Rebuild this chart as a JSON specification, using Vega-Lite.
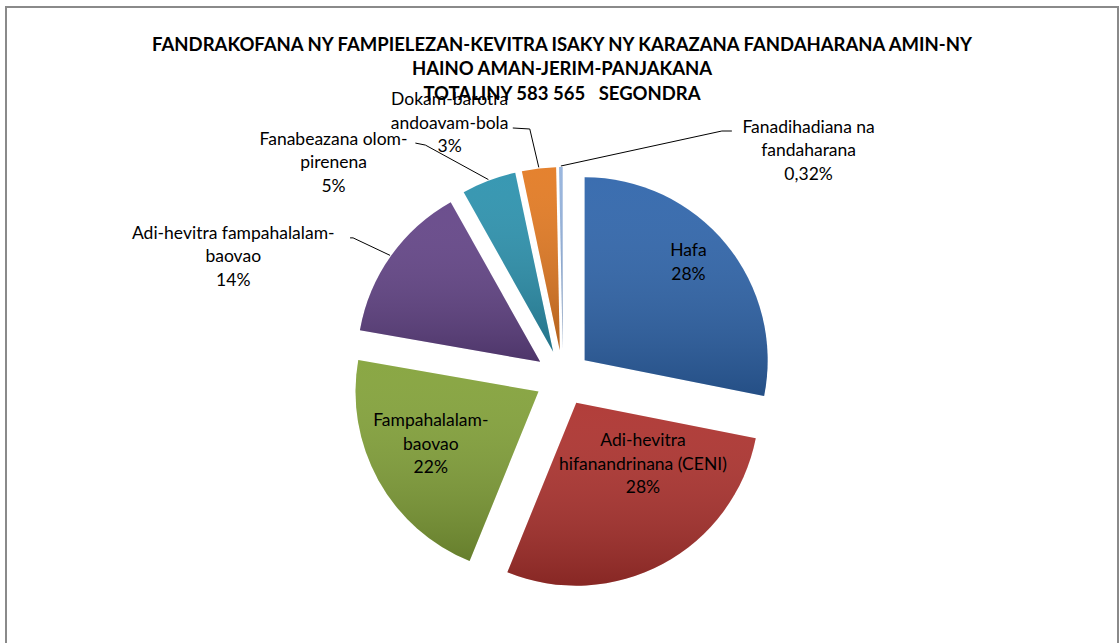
{
  "$schema": "https://vega.github.io/schema/vega-lite/v6.json",
  "width": 1112,
  "height": 636,
  "autosize": {"type": "none"},
  "padding": {"left": 6, "top": 7, "right": 1, "bottom": 0},
  "config": {"view": {"stroke": null}, "font": "Lato"},
  "params": [{"name": "cx", "value": 557}, {"name": "cy", "value": 371}],
  "title": {
    "text": ["FANDRAKOFANA NY FAMPIELEZAN-KEVITRA ISAKY NY KARAZANA FANDAHARANA AMIN-NY", "HAINO AMAN-JERIM-PANJAKANA", "TOTALINY 583 565\u00a0\u00a0 SEGONDRA"],
    "anchor": "middle",
    "frame": "group",
    "baseline": "top",
    "offset": -97,
    "font": "Lato",
    "fontSize": 18.5,
    "fontWeight": "bold",
    "lineHeight": 24.5,
    "color": "black"
  },
  "data": {
    "values": [
      {"k": "hafa", "name": "Hafa", "value": 28.1, "label": "Hafa\n28%"},
      {"k": "ceni", "name": "Adi-hevitra hifanandrinana (CENI)", "value": 28.0, "label": "Adi-hevitra\nhifanandrinana (CENI)\n28%"},
      {"k": "fampa", "name": "Fampahalalam-baovao", "value": 21.6, "label": "Fampahalalam-\nbaovao\n22%"},
      {"k": "adi", "name": "Adi-hevitra fampahalalam-baovao", "value": 14.1, "label": "Adi-hevitra fampahalalam-\nbaovao\n14%"},
      {"k": "fanab", "name": "Fanabeazana olom-pirenena", "value": 4.8, "label": "Fanabeazana olom-\npirenena\n5%"},
      {"k": "dokam", "name": "Dokam-barotra andoavam-bola", "value": 3.0, "label": "Dokam-barotra\nandoavam-bola\n3%"},
      {"k": "fanad", "name": "Fanadihadiana na fandaharana", "value": 0.32, "label": "Fanadihadiana na\nfandaharana\n0,32%"}
    ]
  },
  "transform": [
    {"stack": "value", "groupby": [], "as": ["v0", "v1"], "offset": "normalize", "sort": [{"field": "value", "order": "descending"}]}
  ],
  "layer": [
    {
      "mark": {"type": "rect", "filled": false, "stroke": "#8a8a8a", "strokeWidth": 2},
      "encoding": {
        "x": {"value": 0},
        "x2": {"value": "width"},
        "y": {"value": 0},
        "y2": {"value": {"expr": "height+8"}}
      }
    },
    {
      "mark": {
        "type": "arc",
        "outerRadius": 183,
        "x": {"expr": "cx+28*sin(PI*(datum.v0+datum.v1))"},
        "y": {"expr": "cy-28*cos(PI*(datum.v0+datum.v1))"}
      },
      "encoding": {
        "theta": {"field": "v0", "type": "quantitative", "stack": null, "scale": {"domain": [0, 1], "range": [0, 6.283185307]}},
        "theta2": {"field": "v1"},
        "color": {
          "field": "name",
          "type": "nominal",
          "legend": null,
          "scale": {
            "domain": ["Hafa", "Adi-hevitra hifanandrinana (CENI)", "Fampahalalam-baovao", "Adi-hevitra fampahalalam-baovao", "Fanabeazana olom-pirenena", "Dokam-barotra andoavam-bola", "Fanadihadiana na fandaharana"],
            "range": ["#2f65ab", "#ad322e", "#83a239", "#634487", "#2c92ae", "#e37a22", "#94b2dc"]
          }
        }
      }
    },
    {
      "mark": {
        "type": "arc",
        "outerRadius": 183,
        "x": {"expr": "cx+28*sin(PI*(datum.v0+datum.v1))"},
        "y": {"expr": "cy-28*cos(PI*(datum.v0+datum.v1))"},
        "color": {
          "gradient": "linear",
          "x1": 0, "y1": 0, "x2": 0, "y2": 1,
          "stops": [
            {"offset": 0, "color": "rgba(255,255,255,0.06)"},
            {"offset": 1, "color": "rgba(0,0,0,0.22)"}
          ]
        }
      },
      "encoding": {
        "theta": {"field": "v0", "type": "quantitative", "stack": null},
        "theta2": {"field": "v1"}
      }
    },
    {
      "transform": [{"filter": {"field": "k", "oneOf": ["adi", "fanab", "dokam", "fanad"]}}],
      "mark": {"type": "rule", "color": "black", "strokeWidth": 1},
      "encoding": {
        "x": {"value": {"expr": "cx+212*sin(PI*(datum.v0+datum.v1))"}},
        "y": {"value": {"expr": "cy-212*cos(PI*(datum.v0+datum.v1))"}},
        "x2": {"value": {"expr": "cx+212*sin(PI*(datum.v0+datum.v1))+(datum.k=='adi'?-37:datum.k=='fanab'?-63:datum.k=='dokam'?-9:161)"}},
        "y2": {"value": {"expr": "cy-212*cos(PI*(datum.v0+datum.v1))+(datum.k=='adi'?-17.5:datum.k=='fanab'?-34.5:datum.k=='dokam'?-38.4:-35)"}}
      }
    },
    {
      "transform": [{"filter": {"field": "k", "oneOf": ["adi", "fanab", "dokam", "fanad"]}}],
      "mark": {"type": "rule", "color": "black", "strokeWidth": 1},
      "encoding": {
        "x": {"value": {"expr": "cx+212*sin(PI*(datum.v0+datum.v1))+(datum.k=='adi'?-37:datum.k=='fanab'?-63:datum.k=='dokam'?-9:161)"}},
        "y": {"value": {"expr": "cy-212*cos(PI*(datum.v0+datum.v1))+(datum.k=='adi'?-17.5:datum.k=='fanab'?-34.5:datum.k=='dokam'?-38.4:-35)"}},
        "x2": {"value": {"expr": "cx+212*sin(PI*(datum.v0+datum.v1))+(datum.k=='adi'?-40:datum.k=='fanab'?-73:datum.k=='dokam'?-26:171)"}},
        "y2": {"value": {"expr": "cy-212*cos(PI*(datum.v0+datum.v1))+(datum.k=='adi'?-17.5:datum.k=='fanab'?-36.5:datum.k=='dokam'?-39.4:-35)"}}
      }
    },
    {
      "mark": {
        "type": "text",
        "font": "Lato",
        "fontSize": 17.5,
        "lineBreak": "\n",
        "lineHeight": 23.5,
        "align": "center",
        "baseline": "middle",
        "color": "black",
        "x": {"expr": "cx"},
        "y": {"expr": "cy"},
        "theta": {"expr": "PI*(datum.v0+datum.v1)"},
        "radius": {"expr": "datum.k=='hafa'?170:datum.k=='ceni'?120:datum.k=='fampa'?150:240"},
        "dx": {"expr": "datum.k=='hafa'?-6:datum.k=='ceni'?23:datum.k=='fampa'?-1:datum.k=='adi'?-134:datum.k=='fanab'?-145:datum.k=='dokam'?-86:248"},
        "dy": {"expr": "datum.k=='hafa'?-19:datum.k=='ceni'?-42.5:datum.k=='fampa'?-29.5:datum.k=='adi'?-5.5:datum.k=='fanab'?-13.5:datum.k=='dokam'?-39.5:-10.5"}
      },
      "encoding": {"text": {"field": "label"}}
    }
  ]
}
